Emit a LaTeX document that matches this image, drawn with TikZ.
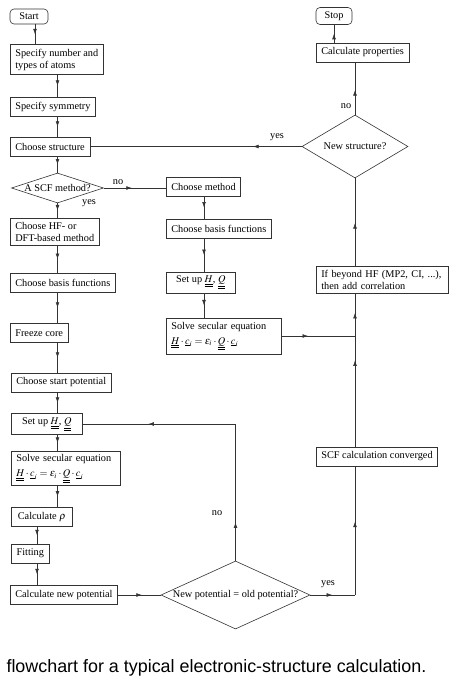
\documentclass[tikz,border=0pt]{standalone}
\usepackage{mathptmx}
\usepackage{fontspec}
\setmainfont{Liberation Serif}
\newfontfamily\capfont{Liberation Sans}
\usepackage{tikz}
\usetikzlibrary{arrows.meta,shapes.geometric,decorations.markings,calc}

\tikzset{
  box/.style={draw=black!80, line width=0.6pt, rectangle, anchor=west, align=left,
    inner xsep=5pt, inner ysep=4pt, minimum height=19pt, font=\fontsize{10.3}{12}\selectfont},
  term/.style={box, rounded corners=4pt, anchor=center, align=center, minimum height=15pt},
  decision/.style={draw=black!80, line width=0.6pt, diamond, inner sep=0pt},
  lbl/.style={font=\fontsize{10.3}{12}\selectfont},
  conn/.style={draw=black!80, line width=0.55pt},
  arr/.style={postaction={decorate,decoration={markings,
    mark=at position #1 with {\arrow{Latex[length=5.5pt,width=3.8pt]}}}}},
  arr/.default=0.5
}
\newcommand{\seceq}{$\underline{\underline{H}}\cdot\underline{c}_i=\epsilon_i\cdot\underline{\underline{Q}}\cdot\underline{c}_i$}
\newcommand{\setHQ}{Set up $\underline{\underline{H}}$, $\underline{\underline{Q}}$}

\begin{document}
\begin{tikzpicture}[x=1pt,y=-1pt]
\useasboundingbox (0,0) rectangle (458,685);

\coordinate (colS) at (35,0);
\coordinate (colL) at (57.5,0);
\coordinate (colF) at (37,0);
\coordinate (colM) at (204,0);
\coordinate (colR) at (355,0);

% left column
\node[term, minimum width=38pt] (start) at (29,16.5) {Start};
\node[box] (spec) at (10,59.5) {Specify number and\\types of atoms};
\node[box] (sym) at (10,107) {Specify symmetry};
\node[box] (struct) at (10,146.5) {Choose structure};
\node[decision, minimum width=92pt, minimum height=30pt,
  label={[lbl]center:A SCF method?}] (scfq) at (57.5,188) {};
\node[box] (hf) at (10,231.5) {Choose HF- or\\DFT-based method};
\node[box] (basisL) at (10,282.5) {Choose basis functions};
\node[box] (freeze) at (10,333) {Freeze core};
\node[box] (startpot) at (11,382.5) {Choose start potential};
\node[box, minimum width=71pt] (setupL) at (11,424) {\setHQ};
\node[box, text width=99pt, inner ysep=3pt] (solveL) at (11,468.5) {Solve secular equation\\[3pt]\seceq};
\node[box, minimum width=61pt] (calcrho) at (11,517) {Calculate $\rho$};
\node[box, minimum width=38pt] (fitting) at (11,553.5) {Fitting};
\node[box] (newpot) at (10,595) {Calculate new potential};

% middle column
\node[box] (method) at (166,186.5) {Choose method};
\node[box] (basisR) at (166,228.5) {Choose basis functions};
\node[box, minimum width=69pt] (setupR) at (166,282.5) {\setHQ};
\node[box, text width=105pt] (solveR) at (166,336) {Solve secular equation\\[3pt]\seceq};
\node[decision, minimum width=149pt, minimum height=68pt,
  label={[lbl]center:New potential = old potential?}] (npq) at (235.5,595) {};

% right column
\node[term, minimum width=36pt] (stop) at (334,16) {Stop};
\node[box] (props) at (316,52.5) {Calculate properties};
\node[decision, minimum width=106pt, minimum height=63pt,
  label={[lbl]center:New structure?}] (nsq) at (355,146.5) {};
\node[box, text width=122pt] (ifhf) at (316,280) {If beyond HF (MP2, CI, ...),\\then add correlation};
\node[box] (scf) at (316,456.5) {SCF calculation converged};

% labels
\node[lbl] (noA) at (118,182) {no};
\node[lbl] (yesA) at (89,203) {yes};
\node[lbl] (yesB) at (277,137) {yes};
\node[lbl] (noB) at (346,106) {no};
\node[lbl] (noC) at (217,513) {no};
\node[lbl] (yesC) at (328,584) {yes};

% connectors
\draw[conn,arr] (start.south -| colS) -- (spec.north -| colS);
\foreach \a/\b in {spec/sym, sym/struct, hf/basisL, basisL/freeze, freeze/startpot,
  startpot/setupL, setupL/solveL, solveL/calcrho}
  \draw[conn,arr] (\a.south -| colL) -- (\b.north -| colL);
\draw[conn,arr] (struct.south -| colL) -- (scfq.north);
\draw[conn,arr] (scfq.south) -- (hf.north -| colL);
\foreach \a/\b in {calcrho/fitting, fitting/newpot}
  \draw[conn,arr] (\a.south -| colF) -- (\b.north -| colF);
\foreach \a/\b in {method/basisR, basisR/setupR, setupR/solveR}
  \draw[conn,arr] (\a.south -| colM) -- (\b.north -| colM);
\draw[conn,arr=0.45] (scfq.east) -- (scfq.east -| method.west);

\coordinate (join) at (solveR.east -| colR);
\coordinate (loopc) at (npq.north |- setupL.east);
\coordinate (yesc) at (npq.east -| colR);
\draw[conn,arr=0.36] (solveR.east) -- (join);
\draw[conn,arr=0.56] (newpot.east) -- (npq.west);
\draw[conn,arr=0.28] (npq.north) -- (loopc);
\draw[conn,arr=0.57] (loopc) -- (setupL.east);
\draw[conn,arr=0.49] (npq.east) -- (yesc);
\draw[conn,arr=0.57] (yesc) -- (scf.south -| colR);
\draw[conn,arr=0.78] (scf.north -| colR) -- (join);
\draw[conn,arr=0.55] (join) -- (ifhf.south -| colR);
\draw[conn,arr=0.49] (ifhf.north -| colR) -- (nsq.south);
\draw[conn,arr=0.47] (nsq.north) -- (props.south -| colR);
\draw[conn,arr] (props.north -| stop) -- (stop.south);
\draw[conn,arr=0.23] (nsq.west) -- (nsq.west -| struct.east);

\node[anchor=base west, font=\capfont\fontsize{17.9}{20}\selectfont] (caption) at (3,672)
  {flowchart for a typical electronic-structure calculation.};
\end{tikzpicture}
\end{document}
